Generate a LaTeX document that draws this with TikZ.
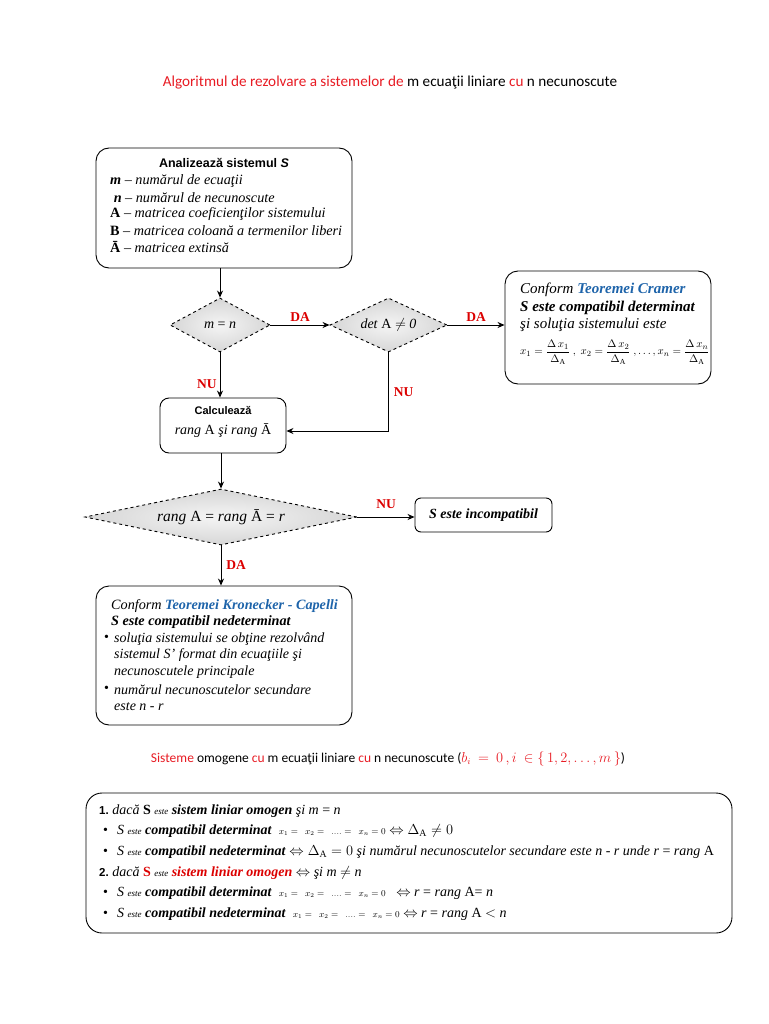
\documentclass[tikz,border=0pt]{standalone}
\usepackage{amsmath}
\usepackage{fontspec}
\setmainfont{Liberation Serif}
\setsansfont{Liberation Sans}
\newfontfamily\calib{Carlito}
\usetikzlibrary{shapes.geometric,arrows.meta}
\definecolor{tred}{RGB}{232,28,36}
\definecolor{lred}{RGB}{220,0,0}
\definecolor{tblue}{RGB}{30,100,170}
\begin{document}
\begin{tikzpicture}[x=1pt,y=-1pt,
  box/.style={draw, rounded corners=13pt, line width=0.9pt, inner sep=0pt},
  dia/.style={diamond, draw, dashed, line width=0.9pt, inner sep=0pt, shading=radial, inner color=gray!8, outer color=gray!32},
  arr/.style={-{Stealth[length=7pt,width=6pt]}, line width=0.9pt},
  lt/.style={anchor=west, inner sep=0pt, font=\fontsize{14.2}{16}\selectfont},
  ct/.style={anchor=center, inner sep=0pt, font=\fontsize{14}{16}\selectfont},
  hd/.style={anchor=center, inner sep=0pt, font=\sffamily\bfseries\fontsize{12.5}{14}\selectfont},
  lab/.style={inner sep=0pt, text=lred, font=\bfseries\fontsize{13.5}{15}\selectfont},
  bt/.style={anchor=west, inner sep=0pt, font=\fontsize{14}{16}\selectfont},
  kt/.style={anchor=west, inner sep=0pt, font=\fontsize{14}{16}\selectfont}
]
\useasboundingbox[fill=white] (0,0) rectangle (768,1024);

% title
\node[inner sep=0pt, font=\calib\fontsize{15.2}{17}\selectfont] (title) at (390,83)
  {\textcolor{tred}{Algoritmul de rezolvare a sistemelor de} m ecuaţii liniare \textcolor{tred}{cu} n necunoscute};

% box 1
\node[box, minimum width=256pt, minimum height=120pt] (b1) at (224,208) {};
\node[hd] (b1t) at (224,163) {Analizează sistemul \textit{S}};
\node[lt] (b1a) at (110,181) {\textbf{\textit{m}} – \textit{numărul de ecuaţii}};
\node[lt] (b1b) at (110,198) {\ \textbf{\textit{n}} – \textit{numărul de necunoscute}};
\node[lt] (b1c) at (110,214) {\textbf{A} – \textit{matricea coeficienţilor sistemului}};
\node[lt] (b1d) at (110,231) {\textbf{B} – \textit{matricea coloană a termenilor liberi}};
\node[lt] (b1e) at (110,247) {\textbf{Ā} – \textit{matricea extinsă}};

% diamonds
\node[dia, minimum width=100pt, minimum height=54pt, aspect=1.85] (d1) at (220,325) {};
\node[ct] (d1t) at (220,325) {\textit{m} = \textit{n}};
\node[dia, minimum width=117pt, minimum height=54pt, aspect=2.17] (d2) at (388.5,325) {};
\node[ct] (d2t) at (388.5,325) {\textit{det} A $\neq$ \textit{0}};

% Cramer box
\node[box, minimum width=206pt, minimum height=113pt] (cr) at (608,327.5) {};
\node[lt, font=\fontsize{15}{17}\selectfont] (cra) at (520,290) {\textit{Conform} \textcolor{tblue}{\textbf{\textit{Teoremei Cramer}}}};
\node[lt, font=\fontsize{15}{17}\selectfont] (crb) at (520,308) {\textbf{\textit{S este compatibil determinat}}};
\node[lt, font=\fontsize{15}{17}\selectfont] (crc) at (520,325) {\textit{şi soluţia sistemului este}};
\node[lt, font=\fontsize{11}{13}\selectfont] (crd) at (520,352)
  {$x_1=\dfrac{\Delta\, x_1}{\Delta_{\mathrm A}}\ ,\ x_2=\dfrac{\Delta\, x_2}{\Delta_{\mathrm A}}\ ,\ldots,x_n=\dfrac{\Delta\, x_n}{\Delta_{\mathrm A}}$};

% calc box
\node[box, rounded corners=9pt, minimum width=126pt, minimum height=55pt] (ca) at (223,425.5) {};
\node[hd, font=\sffamily\bfseries\fontsize{11}{13}\selectfont] (cat) at (223,411) {Calculează};
\node[ct] (cab) at (223,431) {\textit{rang} A \textit{şi rang} Ā};

% diamond 3
\node[dia, minimum width=272pt, minimum height=56pt, aspect=4.86] (d3) at (221,517) {};
\node[ct, font=\fontsize{15.5}{17}\selectfont] (d3t) at (221,517) {\textit{rang} A = \textit{rang} Ā = \textit{r}};

% incompatible
\node[box, rounded corners=6pt, minimum width=137pt, minimum height=34pt] (inc) at (483.5,515) {};
\node[ct] (inct) at (483.5,515) {\textbf{\textit{S este incompatibil}}};

% KC box
\node[box, minimum width=256pt, minimum height=139pt] (kc) at (224,655.5) {};
\node[lt] (kca) at (111,606) {\textit{Conform} \textcolor{tblue}{\textbf{\textit{Teoremei Kronecker - Capelli}}}};
\node[lt] (kcb) at (111,622) {\textbf{\textit{S este compatibil nedeterminat}}};
\node[kt] (kcp1) at (104,638) {•};
\node[kt] (kcc) at (114,639) {\textit{soluţia sistemului se obţine rezolvând}};
\node[kt] (kcd) at (114,655) {\textit{sistemul S' format din ecuaţiile şi}};
\node[kt] (kce) at (114,672) {\textit{necunoscutele principale}};
\node[kt] (kcp2) at (104,689) {•};
\node[kt] (kcf) at (114,690) {\textit{numărul necunoscutelor secundare}};
\node[kt] (kcg) at (114,707) {\textit{este n - r}};

% subtitle
\node[inner sep=0pt, font=\calib\fontsize{13.5}{16}\selectfont] (sub) at (388,759)
  {\textcolor{tred}{Sisteme} omogene \textcolor{tred}{cu} m ecuaţii liniare \textcolor{tred}{cu} n necunoscute (\textcolor{tred}{$b_i\ =\ 0\,, i\ \in\{\,1,2,\ldots,m\,\}$})};

% bottom box
\node[box, rounded corners=16pt, minimum width=646pt, minimum height=140pt] (bb) at (409,863) {};
\node[bt] (bb1) at (99,811) {{\sffamily\bfseries\fontsize{11.5}{13}\selectfont 1.}\ \textit{dacă} \textbf{S} \textit{\small este} \textbf{\textit{sistem liniar omogen}} \textit{şi m} = \textit{n}};
\node[bt] (bbp2) at (103,831) {•};
\node[bt] (bb2) at (117,831) {\textit{S} \textit{\small este} \textbf{\textit{compatibil determinat}}\ \ {\small $x_1=\ \ x_2=\ \ ....=\ \ x_n=0$} $\Leftrightarrow \Delta_{\mathrm A}\neq 0$};
\node[bt] (bbp3) at (103,852) {•};
\node[bt] (bb3) at (117,852) {\textit{S} \textit{\small este} \textbf{\textit{compatibil nedeterminat}} $\Leftrightarrow \Delta_{\mathrm A}=0$ \textit{şi numărul necunoscutelor secundare este n - r unde r} = \textit{rang} A};
\node[bt] (bb4) at (99,873) {{\sffamily\bfseries\fontsize{11.5}{13}\selectfont 2.}\ \textit{dacă} \textcolor{lred}{\textbf{S}} \textit{\small este} \textcolor{lred}{\textbf{\textit{sistem liniar omogen}}} $\Leftrightarrow$ \textit{şi m} $\neq$ \textit{n}};
\node[bt] (bbp5) at (103,893) {•};
\node[bt] (bb5) at (117,893) {\textit{S} \textit{\small este} \textbf{\textit{compatibil determinat}}\ \ {\small $x_1=\ \ x_2=\ \ ....=\ \ x_n=0$}\ \ \ $\Leftrightarrow$ \textit{r} = \textit{rang} A= \textit{n}};
\node[bt] (bbp6) at (103,914) {•};
\node[bt] (bb6) at (117,914) {\textit{S} \textit{\small este} \textbf{\textit{compatibil nedeterminat}}\ \ {\small $x_1=\ \ x_2=\ \ ....=\ \ x_n=0$} $\Leftrightarrow$ \textit{r} = \textit{rang} A $<$ \textit{n}};

% connectors
\draw[arr] (b1.south -| d1.north) -- (d1.north);
\draw[arr] (d1.east) -- node[lab, above=3pt] (l1) {DA} (d2.west);
\draw[arr] (d2.east) -- node[lab, above=3pt] (l2) {DA} (d2.east -| cr.west);
\draw[arr] (d1.south) -- node[lab, pos=0.7, left=3pt] (l3) {NU} (ca.north -| d1.south);
\draw[arr] (d2.south) |- node[lab, pos=0.25, right=5pt] (l4) {NU} ([yshift=-5.5pt]ca.east);
\draw[arr] (ca.south -| d3.north) -- (d3.north);
\draw[arr] (d3.east) -- node[lab, above=8pt] (l5) {NU} (d3.east -| inc.west);
\draw[arr] (d3.south) -- node[lab, right=5pt] (l6) {DA} (kc.north -| d3.south);
\end{tikzpicture}
\end{document}
